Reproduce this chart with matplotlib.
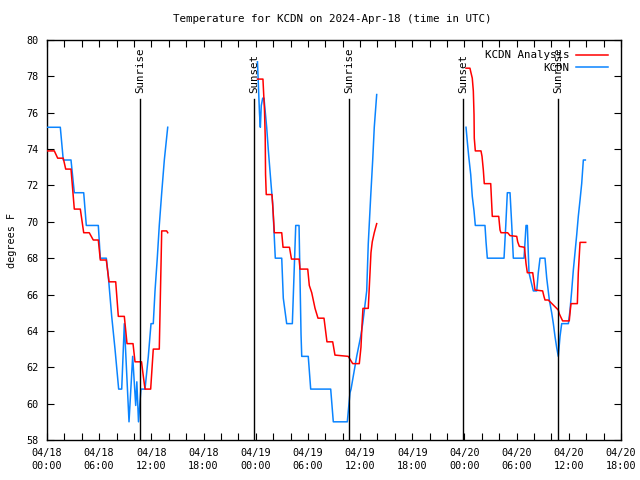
import matplotlib
matplotlib.use("Agg")
import matplotlib.pyplot as plt
import numpy as np

plt.rcParams['font.family'] = ['DejaVu Sans Mono']

# hours since 2024-04-18 00:00 UTC
obs1_t = [0.0, 1.53, 1.87, 2.76, 3.14, 4.22, 4.52, 5.90, 6.13, 6.82, 7.05, 7.44, 7.82, 8.24, 8.59,
          8.89, 9.43, 9.85, 10.20, 10.33, 10.52, 10.80, 11.27, 11.65, 11.96, 12.22, 12.42, 12.68,
          12.91, 13.19, 13.49, 13.88]
obs1_v = [75.2, 75.2, 73.4, 73.4, 71.6, 71.6, 69.8, 69.8, 68.0, 68.0, 67.0, 64.8, 63.0, 60.8, 60.8,
          64.4, 59.0, 62.6, 59.9, 61.2, 59.0, 60.8, 60.8, 62.6, 64.4, 64.4, 66.2, 68.0,
          69.8, 71.6, 73.4, 75.2]
ana1_t = [0.0, 0.84, 1.23, 1.87, 2.15, 2.76, 3.14, 3.83, 4.22, 4.86, 5.32, 5.90, 6.13, 6.82, 7.13,
          7.90, 8.20, 8.89, 9.20, 9.89, 10.12, 10.87, 11.05, 11.27, 11.92, 12.22, 12.91, 13.19,
          13.76, 13.88]
ana1_v = [73.9, 73.9, 73.5, 73.5, 72.9, 72.9, 70.7, 70.7, 69.4, 69.4, 69.0, 69.0, 67.9, 67.9, 66.7,
          66.7, 64.8, 64.8, 63.3, 63.3, 62.3, 62.3, 61.6, 60.8, 60.8, 63.0, 63.0, 69.5,
          69.5, 69.4]

obs2_t = [24.20, 24.43, 24.53, 24.64, 24.80, 24.95, 25.26, 25.44, 25.64, 25.79, 25.95, 26.07, 26.25,
          26.99, 27.17, 27.56, 28.21, 28.60, 28.98, 29.21, 29.29, 30.04, 30.32, 32.62, 32.92, 34.53,
          34.84, 34.96, 35.61, 36.07, 36.30, 36.76, 36.94, 37.22, 37.45, 37.63, 37.91]
obs2_v = [78.8, 76.0, 75.2, 76.4, 76.8, 76.8, 75.2, 74.0, 72.8, 71.9, 71.0, 69.8, 68.0,
          68.0, 65.8, 64.4, 64.4, 69.8, 69.8, 63.8, 62.6, 62.6, 60.8, 60.8, 59.0, 59.0,
          60.6, 60.8, 62.6, 63.7, 64.4, 66.2, 68.8, 71.4, 73.4, 75.2, 77.0]
ana2_t = [24.20, 24.83, 25.01, 25.09, 25.13, 25.21, 25.87, 26.02, 26.14, 26.99, 27.14, 27.88, 28.11,
          28.99, 29.09, 29.98, 30.16, 30.44, 30.82, 31.16, 31.85, 32.19, 32.85, 33.11, 34.64, 35.15,
          35.91, 36.10, 36.22, 36.33, 36.94, 37.14, 37.25, 37.40, 37.63, 37.91]
ana2_v = [77.85, 77.85, 76.1, 74.7, 72.6, 71.5, 71.5, 70.4, 69.4, 69.4, 68.6, 68.6, 67.95,
          67.95, 67.4, 67.4, 66.5, 66.1, 65.24, 64.7, 64.7, 63.4, 63.4, 62.67, 62.6, 62.2,
          62.2, 63.1, 64.3, 65.24, 65.24, 67.2, 68.3, 68.9, 69.4, 69.9]

obs3_t = [48.18, 48.33, 48.49, 48.72, 48.90, 49.10, 49.25, 50.36, 50.48, 50.63, 52.55, 52.75, 52.93,
          53.24, 53.44, 53.62, 54.85, 55.08, 55.23, 55.42, 55.92, 56.31, 56.49, 56.69, 57.26, 57.46,
          57.76, 58.03, 58.22, 58.41, 58.60, 58.79, 58.99, 59.18, 59.95, 60.14, 60.33, 60.52, 60.71,
          60.91, 61.09, 61.29, 61.48, 61.67, 61.90]
obs3_v = [75.2, 74.4, 73.6, 72.6, 71.4, 70.6, 69.8, 69.8, 68.9, 68.0, 68.0, 69.8, 71.6,
          71.6, 69.8, 68.0, 68.0, 69.8, 69.8, 67.2, 66.2, 66.2, 67.2, 68.0, 68.0, 66.9,
          65.7, 65.0, 64.4, 63.7, 63.1, 62.6, 63.7, 64.4, 64.4, 65.15, 66.2, 67.35, 68.3,
          69.3, 70.3, 71.2, 72.1, 73.4, 73.4]
ana3_t = [48.18, 48.63, 48.75, 48.90, 49.02, 49.10, 49.13, 49.25, 49.90, 50.02, 50.17, 50.28, 51.02,
          51.13, 51.20, 51.94, 52.09, 52.20, 52.97, 53.24, 54.01, 54.12, 54.31, 54.90, 55.08, 55.23,
          55.85, 56.00, 56.11, 56.99, 57.14, 57.26, 57.64, 58.79, 58.90, 59.06, 59.29, 60.05, 60.14,
          60.25, 60.98, 61.09, 61.29, 61.94]
ana3_v = [78.45, 78.45, 78.2, 77.9, 77.2, 75.9, 74.6, 73.9, 73.9, 73.6, 72.85, 72.1, 72.1,
          71.0, 70.3, 70.3, 69.55, 69.4, 69.4, 69.24, 69.2, 68.9, 68.65, 68.6, 67.7, 67.2,
          67.2, 66.66, 66.25, 66.2, 65.9, 65.7, 65.7, 65.15, 64.95, 64.78, 64.55, 64.55, 65.0,
          65.5, 65.5, 67.2, 68.87, 68.87]

sun_t = [10.73, 23.84, 34.72, 47.87, 58.79]
sun_lbl = ["Sunrise", "Sunset", "Sunrise", "Sunset", "Sunrise"]
sun_top = 76.74

xtick_labels = ["04/18\n00:00", "04/18\n06:00", "04/18\n12:00", "04/18\n18:00",
                "04/19\n00:00", "04/19\n06:00", "04/19\n12:00", "04/19\n18:00",
                "04/20\n00:00", "04/20\n06:00", "04/20\n12:00", "04/20\n18:00"]

FS = 7.3
RED = '#ff0000'
BLUE = '#0a84ff'

fig = plt.figure(figsize=(6.4, 4.8), dpi=100)
ax = fig.add_axes([47/640, 1-440/480, (621-47)/640, 400/480])

first = True
for (at, av, ot, ov) in [(ana1_t, ana1_v, obs1_t, obs1_v),
                         (ana2_t, ana2_v, obs2_t, obs2_v),
                         (ana3_t, ana3_v, obs3_t, obs3_v)]:
    ax.plot(ot, ov, color=BLUE, lw=1.1, label='KCDN' if first else None, zorder=3)
    ax.plot(at, av, color=RED, lw=1.1, label='KCDN Analysis' if first else None, zorder=4)
    first = False

for t, l in zip(sun_t, sun_lbl):
    ax.plot([t, t], [58, sun_top], color='black', lw=1.0, zorder=5)
    ax.text(t, sun_top + 0.35, l, rotation=90, ha='center', va='bottom', fontsize=FS + 0.5, zorder=6)

ax.set_xlim(0, 66)
ax.set_ylim(58, 80)
ax.set_xticks(np.arange(0, 67, 6))
ax.set_xticklabels(xtick_labels, fontsize=FS, linespacing=1.35)
ax.set_xticks(np.arange(0, 67, 2), minor=True)
ax.set_yticks(np.arange(58, 81, 2))
ax.set_yticklabels([str(v) for v in range(58, 81, 2)], fontsize=FS)
ax.tick_params(which='both', direction='in', top=True, right=True, length=5, width=0.8)
ax.tick_params(axis='x', which='major', pad=6)
ax.tick_params(axis='y', which='major', pad=6)
for s in ax.spines.values():
    s.set_linewidth(1.0)

ax.set_ylabel('degrees F', fontsize=FS)
ax.yaxis.set_label_coords(-0.053, 0.5)

h, lab = ax.get_legend_handles_labels()
order = [lab.index('KCDN Analysis'), lab.index('KCDN')]
ax.legend([h[i] for i in order], [lab[i] for i in order], loc='upper right', frameon=False,
          markerfirst=False, fontsize=FS + 0.5, handlelength=3.0, handletextpad=0.6,
          borderaxespad=0.0, bbox_to_anchor=(0.985, 0.985), labelspacing=0.25)

fig.text(332/640, 1-19/480, 'Temperature for KCDN on 2024-Apr-18 (time in UTC)',
         ha='center', va='center', fontsize=FS + 0.5)

fig.savefig('out.png', dpi=100)
